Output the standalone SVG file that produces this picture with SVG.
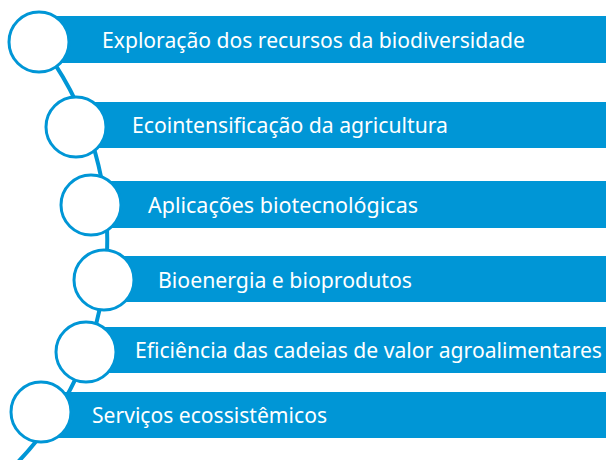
<svg xmlns="http://www.w3.org/2000/svg" width="606" height="460" viewBox="0 0 606 460">
<style>
.bar{fill:#0096d6}
.dot{fill:#fff;stroke:#0096d6;stroke-width:3}
.lbl{fill:#fff;font-family:"Noto Sans","Open Sans",sans-serif;font-size:21px}
.link{fill:none;stroke:#0096d6;stroke-width:4}
</style>
<rect width="606" height="460" fill="#fff"/>
<g id="connectors">
<path class="link" d="M39,42 A321,321 0 0 1 10,470"/>
</g>
<g id="n1">
<rect class="bar" x="57" y="16" width="549" height="47"/>
<circle class="dot" cx="39" cy="42" r="30"/>
<text class="lbl" x="102" y="48" textLength="423" lengthAdjust="spacingAndGlyphs">Exploração dos recursos da biodiversidade</text>
</g>
<g id="n2">
<rect class="bar" x="76" y="102" width="530" height="46"/>
<circle class="dot" cx="76" cy="127" r="30"/>
<text class="lbl" x="132" y="133" textLength="316" lengthAdjust="spacingAndGlyphs">Ecointensificação da agricultura</text>
</g>
<g id="n3">
<rect class="bar" x="91" y="181" width="515" height="47"/>
<circle class="dot" cx="91" cy="205" r="30"/>
<text class="lbl" x="148" y="213" textLength="270" lengthAdjust="spacingAndGlyphs">Aplicações biotecnológicas</text>
</g>
<g id="n4">
<rect class="bar" x="104" y="256" width="502" height="46"/>
<circle class="dot" cx="104" cy="280" r="30"/>
<text class="lbl" x="158" y="288" textLength="254" lengthAdjust="spacingAndGlyphs">Bioenergia e bioprodutos</text>
</g>
<g id="n5">
<rect class="bar" x="86" y="327" width="520" height="46"/>
<circle class="dot" cx="86" cy="352" r="30"/>
<text class="lbl" x="135" y="358" textLength="467" lengthAdjust="spacingAndGlyphs">Eficiência das cadeias de valor agroalimentares</text>
</g>
<g id="n6">
<rect class="bar" x="41" y="392" width="565" height="46"/>
<circle class="dot" cx="41" cy="412" r="30"/>
<text class="lbl" x="92" y="423" textLength="235" lengthAdjust="spacingAndGlyphs">Serviços ecossistêmicos</text>
</g>
</svg>
